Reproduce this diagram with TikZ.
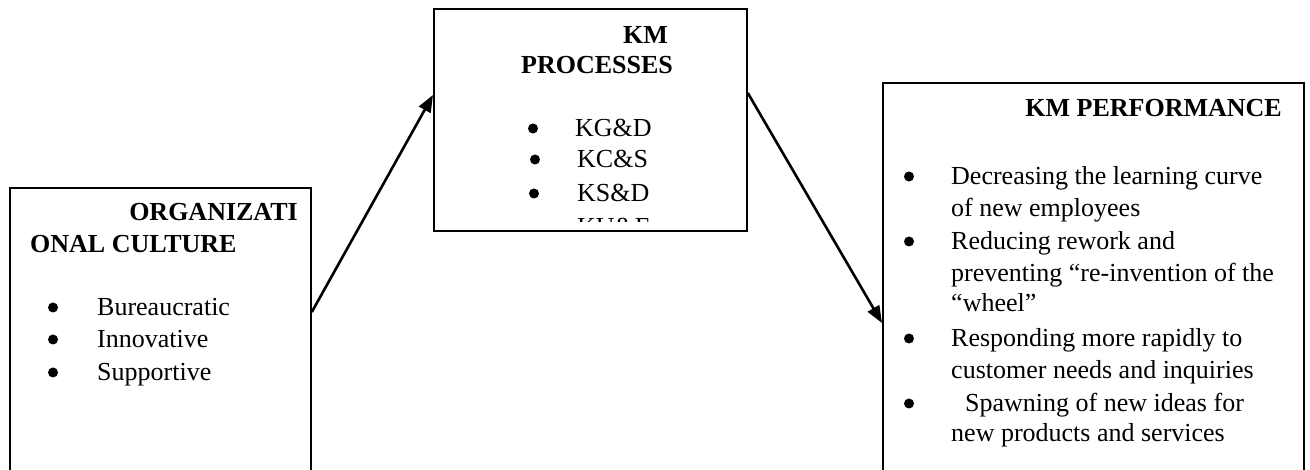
\documentclass[tikz,border=0pt]{standalone}
\usepackage{fontspec}
\setmainfont{Liberation Serif}
\usetikzlibrary{arrows.meta}
\begin{document}
\begin{tikzpicture}[x=1pt,y=-1pt,
  box/.style={draw,line width=1.8pt,inner sep=0,anchor=north west},
  txt/.style={inner sep=0,anchor=base west,font=\fontsize{26}{32}\selectfont},
  head/.style={inner sep=0,font=\fontsize{26}{32}\selectfont\bfseries},
  dot/.style={circle,fill,inner sep=0,minimum size=10pt,yshift=8.5pt},
  link/.style={line width=2.6pt,-{Triangle[length=17pt,width=13pt]}}]
\useasboundingbox (0,0) rectangle (1310,470);
\clip (0,0) rectangle (1310,470);

% the three boxes
\node[box,minimum width=301pt,minimum height=300pt] (org) at (9,187) {};
\node[box,minimum width=313pt,minimum height=222pt] (proc) at (433,8) {};
\node[box,minimum width=421pt,minimum height=400pt] (perf) at (882,82) {};

% organizational culture
\node[head,anchor=base east] (orgA) at (298,221) {ORGANIZATI};
\node[head,anchor=base west] (orgB) at (30,253) {ONAL CULTURE};
\node[dot] (ob1) at (53,316) {};
\node[txt] (ot1) at (97,316) {Bureaucratic};
\node[dot] (ob2) at (53,348) {};
\node[txt] (ot2) at (97,348) {Innovative};
\node[dot] (ob3) at (53,381) {};
\node[txt] (ot3) at (97,381) {Supportive};

% KM processes: the text frame ends above the box border and cuts the last item
\begin{scope}
\clip ([xshift=0.9pt,yshift=10.5pt]proc.south west) rectangle ([xshift=-0.9pt,yshift=-0.9pt]proc.north east);
\node[head,anchor=base east] (procA) at (668,44) {KM};
\node[head,anchor=base west] (procB) at (521,74) {PROCESSES};
\node[dot] (pb1) at (533,137) {};
\node[txt] (pt1) at (575,137) {KG\&D};
\node[dot] (pb2) at (535,168) {};
\node[txt] (pt2) at (577,168) {KC\&S};
\node[dot] (pb3) at (534,202) {};
\node[txt] (pt3) at (577,202) {KS\&D};
\node[txt] (pt4) at (577,236) {KU\&E};
\end{scope}

% KM performance
\node[head,anchor=base east] (perfA) at (1282,117) {KM PERFORMANCE};
\node[dot] (fb1) at (909,185) {};
\node[txt] (ft1) at (951,185) {Decreasing the learning curve};
\node[txt] (ft2) at (951,217) {of new employees};
\node[dot] (fb2) at (909,250) {};
\node[txt] (ft3) at (951,250) {Reducing rework and};
\node[txt] (ft4) at (951,282) {preventing “re-invention of the};
\node[txt] (ft5) at (951,312) {“wheel”};
\node[dot] (fb3) at (909,347) {};
\node[txt] (ft6) at (951,347) {Responding more rapidly to};
\node[txt] (ft7) at (951,378) {customer needs and inquiries};
\node[dot] (fb4) at (909,412) {};
\node[txt] (ft8) at (965,412) {Spawning of new ideas for};
\node[txt] (ft9) at (951,442) {new products and services};

% connectors
\draw[link] ([yshift=-125pt]org.north east) -- ([yshift=-87pt]proc.north west);
\draw[link] ([yshift=-85pt]proc.north east) -- ([yshift=-241pt]perf.north west);
\end{tikzpicture}
\end{document}
